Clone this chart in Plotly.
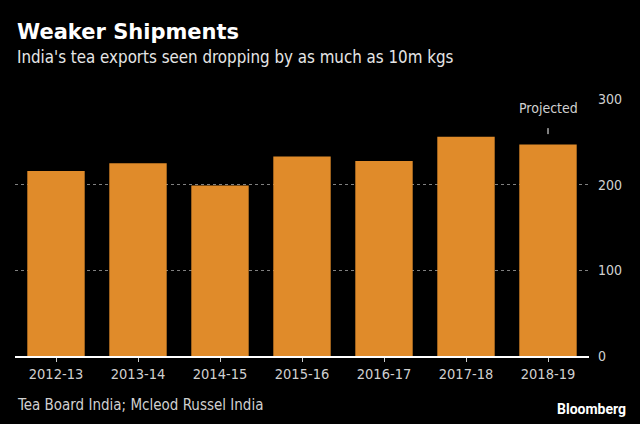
import plotly.graph_objects as go

# India tea exports, million kg
seasons = ["2012-13", "2013-14", "2014-15", "2015-16", "2016-17", "2017-18", "2018-19"]
exports = [216, 225, 199, 233, 227.5, 256, 247]
y_ticks = [0, 100, 200, 300]

orange = "#E08B2A"
grey_txt = "#D0D0D0"
narrow = "DejaVu Sans Condensed, sans-serif"

fig = go.Figure()
fig.add_trace(go.Bar(x=seasons, y=exports, marker_color=orange, marker_line_width=0))

fig.update_layout(
    width=640, height=424,
    paper_bgcolor="black", plot_bgcolor="black",
    margin=dict(l=15, r=51, t=99, b=68),
    bargap=0.3,
    showlegend=False,
    font=dict(family=narrow, color=grey_txt, size=14),
)

fig.update_xaxes(
    type="category",
    showline=True, linecolor="white", linewidth=1.5,
    ticks="outside", ticklen=4, tickcolor="#cccccc", tickwidth=1,
    showgrid=False,
    tickfont=dict(size=14.5, color=grey_txt),
)
fig.update_yaxes(
    side="right", range=[0, 300], tickvals=y_ticks,
    showgrid=True, gridcolor="#808080", griddash="dot", gridwidth=1,
    zeroline=False, ticks="", ticklabelstandoff=8,
    tickfont=dict(size=14, color=grey_txt),
)

# projected marker above last bar
fig.add_shape(type="line", x0=seasons[-1], x1=seasons[-1], y0=259, y1=266,
              line=dict(color="white", width=1))
fig.add_annotation(x=seasons[-1], y=290, text="Projected", showarrow=False,
                   font=dict(size=14, color=grey_txt, family=narrow))

# titles and footer (paper coords relative to plot area)
pw, ph = 574, 257
def px(x):
    return (x - 15) / pw
def py(y):
    return (356 - y) / ph

fig.add_annotation(xref="paper", yref="paper", x=px(15), y=py(32), xanchor="left", yanchor="middle",
                   text="<b>Weaker Shipments</b>", showarrow=False,
                   font=dict(size=21, color="white", family="DejaVu Sans, sans-serif"))
fig.add_annotation(xref="paper", yref="paper", x=px(15), y=py(57), xanchor="left", yanchor="middle",
                   text="India's tea exports seen dropping by as much as 10m kgs", showarrow=False,
                   font=dict(size=16.8, color="#E6E6E6", family=narrow))
fig.add_annotation(xref="paper", yref="paper", x=px(15), y=py(405), xanchor="left", yanchor="middle",
                   text="Tea Board India; Mcleod Russel India", showarrow=False,
                   font=dict(size=15, color=grey_txt, family=narrow))
fig.add_annotation(xref="paper", yref="paper", x=px(628), y=py(409), xanchor="right", yanchor="middle",
                   text="<b>Bloomberg</b>", showarrow=False,
                   font=dict(size=14, color="white", family="Roboto, Liberation Sans, sans-serif"))

fig.write_html("out.html", config={"displayModeBar": False},
               post_script="document.body.style.margin='0';")
